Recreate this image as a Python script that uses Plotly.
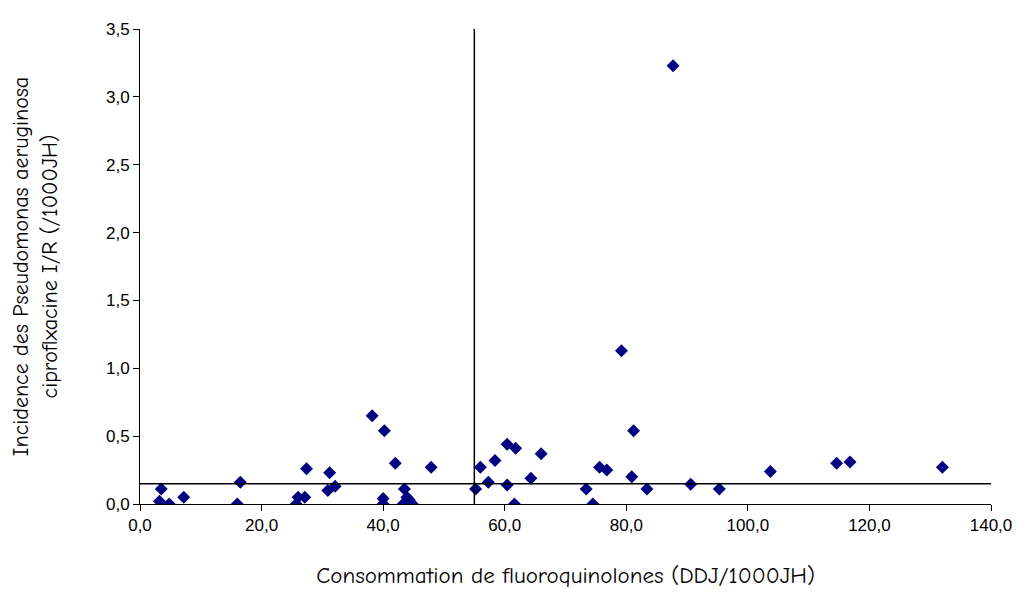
import plotly.graph_objects as go

# Consommation (DDJ/1000JH) et incidence (/1000JH) par établissement
conso = [3.5, 3.2, 4.8, 7.2, 16.5, 16.0,
         25.7, 26.0, 27.1, 27.4, 31.2, 30.9, 32.1,
         38.2, 40.2, 40.0, 40.0, 42.0, 43.5, 43.9, 43.3, 44.8, 44.3, 47.9,
         55.2, 56.0, 57.3, 58.4, 60.4, 61.8, 60.4, 61.6, 64.3, 66.0,
         73.4, 74.5, 75.6, 76.8, 79.2, 81.2, 80.9, 83.4, 87.7,
         90.6, 95.3, 103.7, 114.6, 116.8, 132.0]
incidence = [0.11, 0.02, 0.0, 0.05, 0.16, 0.0,
             0.0, 0.05, 0.05, 0.26, 0.23, 0.10, 0.13,
             0.65, 0.54, 0.04, 0.0, 0.30, 0.11, 0.05, 0.0, 0.0, 0.03, 0.27,
             0.11, 0.27, 0.16, 0.32, 0.44, 0.41, 0.14, 0.0, 0.19, 0.37,
             0.11, 0.0, 0.27, 0.25, 1.13, 0.54, 0.20, 0.11, 3.23,
             0.146, 0.11, 0.24, 0.30, 0.31, 0.27]

# lignes de référence
seuil_x = 55.0
seuil_y = 0.15

x_ticks = [0, 20, 40, 60, 80, 100, 120, 140]
y_ticks = [0, 0.5, 1.0, 1.5, 2.0, 2.5, 3.0, 3.5]

NAVY = "#000080"
TITLE_FONT = "Comic Sans MS, Comic Neue, DejaVu Sans, sans-serif"
TICK_FONT = "Arial, Liberation Sans, sans-serif"

fig = go.Figure()
fig.add_trace(go.Scatter(
    x=conso, y=incidence, mode="markers",
    marker=dict(symbol="diamond", size=10, color=NAVY, line=dict(width=0)),
    showlegend=False, hoverinfo="x+y"
))

# moyenne/médiane : traits noirs
fig.add_shape(type="line", xref="x", yref="y",
              x0=seuil_x, x1=seuil_x, y0=0, y1=3.5,
              line=dict(color="black", width=1.5))
fig.add_shape(type="line", xref="x", yref="y",
              x0=0, x1=140, y0=seuil_y, y1=seuil_y,
              line=dict(color="black", width=1.5))

fig.update_layout(
    width=1020, height=597,
    margin=dict(l=130, r=37, t=20, b=101),
    plot_bgcolor="white", paper_bgcolor="white",
    separators=",.",
    xaxis=dict(
        range=[0, 140], tickvals=x_ticks, tickformat=".1f",
        showgrid=False, zeroline=False,
        showline=True, linecolor="black", linewidth=1,
        ticks="outside", ticklen=6, tickcolor="black",
        tickfont=dict(family=TICK_FONT, size=17, color="black"),
        title=dict(text="Consommation de fluoroquinolones (DDJ/1000JH)",
                   font=dict(family=TITLE_FONT, size=23, color="black"),
                   standoff=32),
    ),
    yaxis=dict(
        range=[0, 3.5], tickvals=y_ticks, tickformat=".1f",
        showgrid=False, zeroline=False,
        showline=True, linecolor="black", linewidth=1,
        ticks="outside", ticklen=6, tickcolor="black",
        tickfont=dict(family=TICK_FONT, size=17, color="black"),
        title=dict(text="Incidence des Pseudomonas aeruginosa<br>ciproflxacine I/R (/1000JH)",
                   font=dict(family=TITLE_FONT, size=22, color="black"),
                   standoff=42),
    ),
)

fig.write_html("out.html")
